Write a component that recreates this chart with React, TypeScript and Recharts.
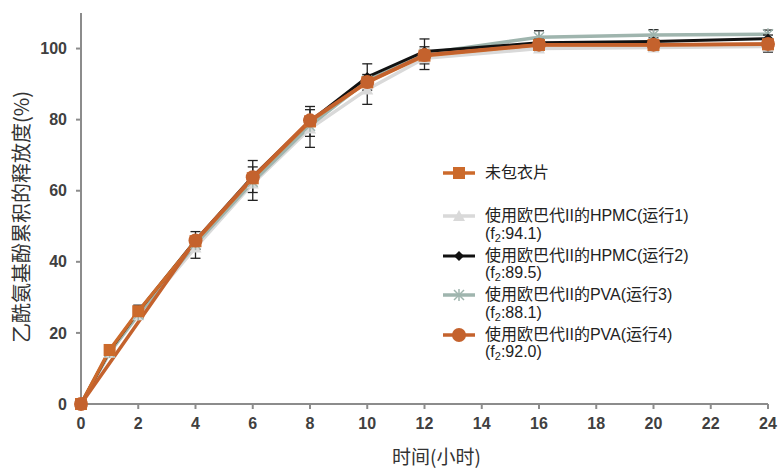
import React from 'react';
import { LineChart, Line, XAxis, YAxis, ErrorBar } from 'recharts';

const hours = [0, 1, 2, 4, 6, 8, 10, 12, 16, 20, 24];
const uncoated = [0, 15.2, 26.1, 45.8, 63.5, 79.5, 90.5, 98, 101, 101, 101.2];
const run1 = [0, 14.4, 25, 44, 62, 77.5, 88.5, 97.3, 100, 100.3, 100.6];
const run2 = [0, 15, 26, 46, 64, 79.5, 92, 99.2, 101.6, 102, 102.8];
const run3 = [0, 14.6, 25.2, 45, 62.5, 78.3, 91, 98.6, 103.2, 103.8, 104];
const run4 = [0, null, null, 46, 63.8, 79.8, 90.6, 98.2, 101.1, 101.1, 101.3];
const run1Err = [0, 0.6, 1, 3, 4.7, 5.3, 4.2, 3.2, 1, 1, 1.6];
const run2Err = [0, 0.6, 1.8, 2.5, 4.5, 4.2, 3.7, 3.5, 1, 1, 1];
const run3Err = [0, 0, 0, 0, 0, 0, 0, 0, 1.8, 1.5, 1.2];

const xTicks = [0, 2, 4, 6, 8, 10, 12, 14, 16, 18, 20, 22, 24];
const yTicks = [0, 20, 40, 60, 80, 100];

const legendNames = [
  '未包衣片',
  '使用欧巴代II的HPMC(运行1)',
  '使用欧巴代II的HPMC(运行2)',
  '使用欧巴代II的PVA(运行3)',
  '使用欧巴代II的PVA(运行4)',
];
const legendF2 = [null, '94.1', '89.5', '88.1', '92.0'];

const FONT = '"Liberation Sans", Arial, "Noto Sans CJK SC", sans-serif';
const CJK = '"Noto Sans CJK SC", "Liberation Sans", sans-serif';

const series = [
  { key: 'run1', color: '#d9d9d9', shape: 'triangle', width: 3.5, err: 'e1' },
  { key: 'run3', color: '#9fb5ae', shape: 'asterisk', width: 3.5, err: 'e3' },
  { key: 'run2', color: '#111111', shape: 'diamond', width: 3, err: 'e2' },
  { key: 'uncoated', color: '#cc6a2b', shape: 'square', width: 3.5, err: null },
  { key: 'run4', color: '#c4622d', shape: 'circle', width: 3.5, err: null },
];
// legend order differs from draw order
const legendOrder = ['uncoated', 'run1', 'run2', 'run3', 'run4'];

const data = hours.map((h, i) => ({
  h,
  uncoated: uncoated[i],
  run1: run1[i],
  run2: run2[i],
  run3: run3[i],
  run4: run4[i],
  e1: run1Err[i],
  e2: run2Err[i],
  e3: run3Err[i],
}));

function Marker({ cx, cy, shape, color }: any) {
  if (cx == null || cy == null) return null;
  switch (shape) {
    case 'square':
      return <rect x={cx - 6} y={cy - 6} width={12} height={12} fill={color} />;
    case 'circle':
      return <circle cx={cx} cy={cy} r={7} fill={color} />;
    case 'diamond':
      return <polygon points={`${cx},${cy - 5} ${cx + 5},${cy} ${cx},${cy + 5} ${cx - 5},${cy}`} fill={color} />;
    case 'triangle':
      return <polygon points={`${cx},${cy - 6} ${cx + 6},${cy + 5} ${cx - 6},${cy + 5}`} fill={color} />;
    case 'asterisk':
      return (
        <g stroke={color} strokeWidth={1.5}>
          <line x1={cx - 5} y1={cy - 5} x2={cx + 5} y2={cy + 5} />
          <line x1={cx - 5} y1={cy + 5} x2={cx + 5} y2={cy - 5} />
          <line x1={cx} y1={cy - 6} x2={cx} y2={cy + 6} />
        </g>
      );
    default:
      return null;
  }
}

function LegendIcon({ s }: any) {
  return (
    <svg width={34} height={16} style={{ display: 'block' }}>
      <line x1={1} y1={8} x2={33} y2={8} stroke={s.color} strokeWidth={s.width} />
      <Marker cx={17} cy={8} shape={s.shape} color={s.color} />
    </svg>
  );
}

const legendTops = [164, 207, 246.5, 286, 325.5];

function ChartLegend() {
  return (
    <div style={{ position: 'absolute', left: 442, top: 0, fontFamily: FONT, fontSize: 16, color: '#222' }}>
      {legendOrder.map((k, i) => {
        const s = series.find((x) => x.key === k)!;
        return (
          <div key={k} style={{ position: 'absolute', top: legendTops[i], left: 0, display: 'flex', lineHeight: '17.5px' }}>
            <div style={{ width: 43, paddingTop: 1 }}>
              <LegendIcon s={s} />
            </div>
            <div>
              <div style={{ whiteSpace: 'nowrap', height: 17.5 }}>{legendNames[i]}</div>
              {legendF2[i] && (
                <div style={{ whiteSpace: 'nowrap', height: 17.5 }}>
                  (f<span style={{ fontSize: 11, position: 'relative', top: 3 }}>2</span>:{legendF2[i]})
                </div>
              )}
            </div>
          </div>
        );
      })}
    </div>
  );
}

export default function App() {
  return (
    <div style={{ position: 'absolute', left: 0, top: 0, width: 779, height: 468, background: '#fff' }}>
      <LineChart width={779} height={468} data={data} margin={{ top: 13, right: 11, left: 0, bottom: 0 }}>
        <XAxis
          dataKey="h"
          type="number"
          domain={[0, 24]}
          ticks={xTicks}
          height={64}
          stroke="#8c8c8c"
          strokeWidth={2}
          tickSize={5}
          tickMargin={9}
          tick={{ fill: '#404040', fontSize: 16, fontWeight: 'bold', fontFamily: FONT }}
          label={({ viewBox }: any) => (
            <text
              x={viewBox.x + viewBox.width / 2 + 12}
              y={455}
              textAnchor="middle"
              dominantBaseline="central"
              fontFamily={CJK}
              fontSize={19}
              fill="#333"
            >
              时间(小时)
            </text>
          )}
        />
        <YAxis
          domain={[0, 110]}
          ticks={yTicks}
          width={81}
          stroke="#8c8c8c"
          strokeWidth={2}
          tickSize={5}
          tickMargin={9}
          tick={{ fill: '#404040', fontSize: 16, fontWeight: 'bold', fontFamily: FONT }}
          label={() => (
            <text
              x={20}
              y={217}
              transform="rotate(-90 20 217)"
              textAnchor="middle"
              dominantBaseline="central"
              fontFamily={CJK}
              fontSize={20}
              fill="#333"
            >
              乙酰氨基酚累积的释放度(%)
            </text>
          )}
        />
        {series.map((s) => (
          <Line
            key={s.key}
            dataKey={s.key}
            stroke={s.color}
            strokeWidth={s.width}
            connectNulls
            isAnimationActive={false}
            dot={(p: any) => <Marker key={`${s.key}-${p.index}`} cx={p.cx} cy={p.cy} shape={s.shape} color={s.color} />}
            activeDot={false}
          >
            {s.err && <ErrorBar dataKey={s.err} direction="y" width={5} stroke="#222" strokeWidth={1.3} />}
          </Line>
        ))}
      </LineChart>
      <ChartLegend />
    </div>
  );
}
